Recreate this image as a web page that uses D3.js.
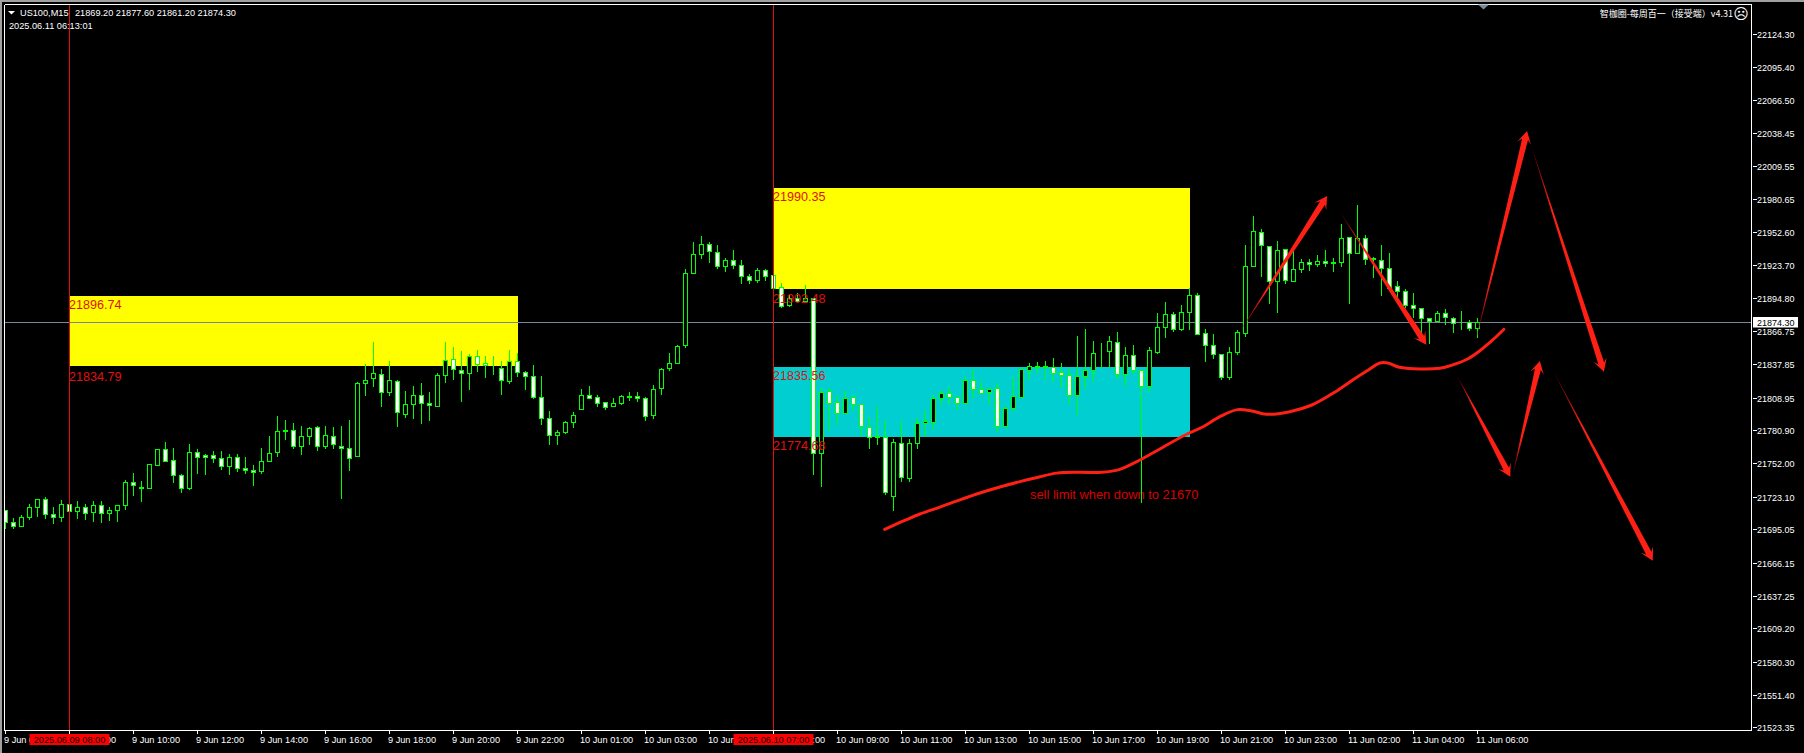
<!DOCTYPE html>
<html><head><meta charset="utf-8">
<style>html,body{margin:0;padding:0;background:#000;overflow:hidden}svg{display:block}text{font-family:"Liberation Sans",Arial,sans-serif}</style>
<script src="https://cdn.jsdelivr.net/npm/d3@7/dist/d3.min.js"></script>
</head><body>
<script>
const opens=[21712.0,21701.3,21697.6,21705.4,21714.1,21721.3,21708.3,21705.4,21716.9,21710.6,21714.3,21709.7,21716.1,21708.9,21711.5,21715.8,21736.0,21731.4,21730.5,21750.4,21764.6,21755.0,21742.1,21730.5,21762.0,21759.4,21759.4,21756.8,21749.6,21757.6,21748.1,21746.4,21745.2,21753.9,21761.7,21781.0,21781.0,21766.9,21775.5,21783.6,21766.9,21775.8,21767.2,21765.4,21758.2,21821.5,21825.8,21829.5,21813.7,21823.5,21795.2,21803.3,21811.4,21804.4,21801.5,21828.4,21842.5,21833.0,21830.1,21845.1,21839.1,21837.6,21834.7,21823.2,21840.8,21831.3,21827.8,21809.6,21791.4,21776.7,21779.0,21787.7,21798.9,21811.4,21809.6,21805.3,21801.5,21804.1,21810.2,21810.5,21808.8,21793.5,21817.1,21834.4,21838.8,21854.4,21917.0,21933.2,21942.1,21935.2,21922.8,21928.3,21923.9,21914.4,21910.4,21919.6,21915.3,21904.9,21889.0,21895.6,21892.5,21895.1,21761.1,21814.5,21805.3,21795.8,21809.6,21803.6,21783.6,21775.3,21775.0,21723.6,21769.8,21739.2,21769.8,21787.4,21787.7,21808.8,21812.9,21809.7,21804.5,21824.1,21816.3,21813.7,21817.2,21784.3,21800.2,21809.7,21833.1,21836.5,21835.9,21835.4,21831.0,21828.4,21811.4,21827.9,21833.1,21848.7,21849.2,21857.0,21829.3,21846.1,21832.8,21819.2,21848.4,21870.0,21881.6,21868.3,21883.0,21898.0,21865.1,21854.7,21846.3,21826.7,21848.4,21865.1,21922.8,21952.6,21940.4,21909.8,21937.9,21909.8,21920.2,21926.6,21924.6,21927.5,21926.3,21926.3,21948.2,21934.1,21947.4,21929.5,21928.3,21921.4,21905.5,21901.2,21889.4,21886.8,21877.8,21875.2,21882.4,21878.1,21873.8,21874.3,21869.2];
const highs=[21712.0,21705.1,21707.4,21717.2,21721.3,21723.0,21714.6,21720.7,21716.9,21719.0,21717.2,21719.0,21719.8,21713.8,21716.1,21738.0,21743.8,21737.1,21751.6,21764.6,21770.1,21764.9,21743.2,21769.2,21764.6,21760.5,21763.1,21762.3,21760.5,21760.5,21757.1,21751.0,21764.9,21776.1,21793.4,21790.0,21787.4,21784.8,21783.6,21784.8,21784.8,21783.9,21784.8,21790.0,21822.6,21838.5,21857.5,21833.9,21841.1,21824.3,21815.1,21819.4,21821.2,21813.4,21830.4,21856.7,21853.2,21848.9,21846.3,21849.8,21844.6,21845.4,21841.1,21850.6,21847.2,21832.4,21836.8,21828.1,21797.8,21781.3,21788.8,21796.1,21816.0,21818.6,21811.6,21805.3,21808.2,21811.4,21813.4,21813.4,21809.9,21820.3,21834.7,21848.0,21854.9,21920.5,21943.9,21948.5,21943.9,21941.5,21930.0,21937.2,21928.3,21915.6,21920.8,21920.5,21915.3,21908.6,21897.4,21899.7,21906.9,21895.1,21817.4,21817.4,21810.8,21814.5,21810.2,21803.6,21792.3,21802.1,21790.0,21772.7,21789.1,21773.5,21791.4,21797.2,21810.8,21814.6,21818.1,21809.7,21827.6,21833.9,21823.2,21817.5,21821.8,21801.6,21826.7,21833.6,21839.1,21840.0,21841.1,21842.9,21839.1,21834.8,21861.9,21868.6,21857.6,21856.4,21862.2,21865.4,21853.0,21854.1,21832.8,21853.0,21881.9,21891.4,21883.3,21888.8,21903.5,21899.8,21868.0,21864.2,21846.3,21853.0,21867.4,21940.7,21965.9,21954.6,21940.4,21944.2,21937.9,21937.0,21929.2,21928.6,21932.1,21936.4,21929.5,21958.9,21948.2,21976.2,21949.4,21930.9,21940.7,21933.8,21909.6,21903.2,21899.2,21886.8,21877.8,21884.2,21885.9,21879.2,21883.6,21876.6,21877.6];
const lows=[21696.2,21696.4,21697.6,21704.2,21706.0,21705.1,21700.8,21702.5,21710.6,21705.1,21704.2,21702.5,21701.6,21703.4,21702.5,21712.9,21725.0,21719.8,21730.5,21750.4,21753.9,21736.3,21727.6,21729.4,21744.1,21743.2,21753.6,21747.5,21743.2,21745.8,21744.1,21733.7,21744.1,21753.9,21758.8,21772.7,21764.9,21759.7,21769.2,21764.0,21764.9,21764.9,21722.4,21746.7,21758.2,21811.6,21819.4,21802.1,21811.6,21784.8,21792.6,21791.7,21787.4,21790.0,21801.5,21822.9,21825.5,21806.4,21816.8,21832.4,21827.2,21829.0,21812.5,21821.2,21828.1,21816.0,21808.2,21786.5,21769.2,21769.2,21778.2,21783.9,21798.9,21808.5,21801.3,21799.5,21801.5,21803.0,21807.3,21806.4,21790.0,21791.7,21812.5,21833.3,21838.8,21853.2,21917.0,21930.3,21926.8,21921.6,21919.0,21921.6,21907.8,21908.6,21909.5,21911.2,21904.3,21887.6,21888.1,21893.0,21892.5,21743.2,21732.2,21780.7,21786.5,21795.8,21798.6,21777.0,21764.9,21769.2,21725.3,21712.0,21736.6,21736.6,21765.4,21776.1,21782.0,21803.0,21803.0,21799.3,21804.5,21809.7,21813.1,21804.5,21779.9,21784.3,21798.1,21809.7,21824.7,21830.5,21824.7,21823.2,21818.3,21804.5,21794.7,21817.5,21823.2,21835.7,21835.7,21825.6,21820.1,21830.5,21718.5,21814.6,21847.5,21861.1,21866.6,21867.1,21868.6,21863.7,21840.6,21843.7,21825.3,21825.3,21846.6,21862.2,21922.8,21913.9,21890.5,21882.7,21908.1,21909.8,21917.4,21919.1,21922.6,21922.6,21918.2,21922.6,21890.5,21934.1,21925.1,21913.0,21897.4,21904.1,21890.5,21887.6,21879.2,21863.7,21855.9,21875.2,21872.3,21865.4,21868.0,21867.1,21861.2];
const closes=[21701.3,21697.6,21705.7,21714.3,21721.3,21708.0,21705.4,21716.9,21710.6,21714.3,21708.9,21716.1,21708.9,21711.5,21716.1,21736.0,21733.1,21730.5,21751.6,21764.6,21753.9,21741.8,21730.5,21762.0,21757.6,21757.4,21756.5,21749.6,21757.6,21747.8,21746.1,21744.4,21754.2,21761.1,21780.2,21779.9,21766.9,21775.8,21782.8,21766.9,21776.7,21768.6,21765.1,21756.5,21821.7,21824.3,21830.4,21813.7,21824.3,21796.3,21803.6,21811.4,21804.1,21802.4,21828.7,21841.7,21833.6,21830.1,21845.1,21837.9,21837.3,21837.0,21824.1,21840.5,21831.0,21827.5,21809.3,21791.1,21776.4,21779.3,21788.0,21794.0,21811.4,21808.5,21804.1,21800.7,21804.4,21810.5,21809.6,21808.5,21792.9,21816.6,21833.9,21839.1,21853.8,21917.0,21933.5,21942.1,21936.1,21922.8,21928.3,21923.9,21914.1,21910.9,21919.6,21914.1,21904.3,21888.1,21895.6,21893.0,21895.6,21761.1,21813.9,21804.4,21795.8,21808.7,21803.6,21784.5,21775.0,21774.7,21727.1,21770.1,21740.0,21769.8,21786.8,21788.5,21808.8,21812.9,21809.7,21804.5,21824.4,21816.6,21813.1,21816.6,21784.0,21800.2,21810.3,21833.6,21836.2,21835.9,21836.5,21830.5,21828.7,21811.4,21827.6,21832.8,21847.8,21848.1,21858.2,21829.3,21846.1,21833.1,21819.2,21850.4,21870.3,21881.6,21868.3,21883.3,21898.0,21864.2,21854.4,21846.6,21826.7,21848.6,21866.0,21923.1,21953.4,21941.0,21909.8,21937.0,21910.7,21920.5,21926.6,21924.9,21927.5,21925.7,21925.7,21947.4,21934.4,21947.4,21929.2,21928.9,21921.4,21904.1,21901.5,21889.1,21886.8,21878.1,21875.5,21882.4,21879.0,21873.8,21873.2,21869.4,21874.3];

const priceTicks=["22124.30","22095.40","22066.50","22038.45","22009.55","21980.65","21952.60","21923.70","21894.80","21866.75","21837.85","21808.95","21780.90","21752.00","21723.10","21695.05","21666.15","21637.25","21609.20","21580.30","21551.40","21523.35"];
const timeLabels=["9 Jun 06:00","9 Jun 08:00","9 Jun 10:00","9 Jun 12:00","9 Jun 14:00","9 Jun 16:00","9 Jun 18:00","9 Jun 20:00","9 Jun 22:00","10 Jun 01:00","10 Jun 03:00","10 Jun 05:00","10 Jun 07:00","10 Jun 09:00","10 Jun 11:00","10 Jun 13:00","10 Jun 15:00","10 Jun 17:00","10 Jun 19:00","10 Jun 21:00","10 Jun 23:00","11 Jun 02:00","11 Jun 04:00","11 Jun 06:00"];
const barsPerLabel=8;

const currentPrice=21874.30;
const markerBars=[8,96];
const markerTags=["2025.06.09 08:00","2025.06.10 07:00"];
const zoneStart=[8,96,96];
const zoneEnd=[64,148,148];
const zoneTop=[21896.74,21990.35,21835.56];
const zoneBottom=[21836.2,21903.2,21774.68];
const zoneColor=["#ffff00","#ffff00","#00ced1"];
const zoneLabelPrice=[21896.74,21834.79,21990.35,21902.48,21835.56,21774.68];
const zoneLabelOnBar=[8,8,96,96,96,96];

const curveBars=[109.9,112.4,114.3,116.8,119.3,121.8,124.3,126.8,129.3,131.4,134.3,137.0,139.3,141.4,143.4,145.9,147.7,149.7,151.8,154,155.8,157.6,160.4,163.3,166.2,168.4,170.2,171.8,172.8,174.1,176,179.3,180.9,182.7,184.3,185.9,187.3];
const curvePrices=[21695.2,21703.0,21708.6,21714.6,21720.9,21726.8,21732.0,21736.6,21740.9,21744.0,21744.7,21744.7,21747.3,21753.9,21761.4,21771.2,21777.9,21784.2,21792.9,21799,21797.8,21795,21797,21803,21814.3,21824.7,21832.7,21839.4,21839.4,21835.9,21834.4,21834.8,21837.7,21842.6,21850,21859.3,21868.6];

const arrowFromBar=[154.3,166.7,183.7,190.6,181.4,188.4,193.4];
const arrowFromPrice=[21866.5,21971.3,21856.7,22029.9,21829,21742.4,21833.3];
const arrowToBar=[165.2,177.6,190.2,199.8,188.1,191.8,205.9];
const arrowToPrice=[21984.0,21855.2,22040.3,21831.9,21740.9,21841.1,21668.2];

const W=1804,H=753,plotL=4.5,plotR=1751.5,plotT=4.5,plotB=730.5;
const x=d3.scaleLinear().domain([0,1]).range([5.5,13.5]);
const y=d3.scaleLinear().domain([22124.30,21523.35]).range([34,727.9]);
const py=v=>Math.floor(y(v))+0.5;
const RED="#ff2015",GREEN="#00ff00";

const svg=d3.select("body").append("svg").attr("width",W).attr("height",H);
svg.append("rect").attr("width",W).attr("height",H).attr("fill","#000");

svg.append("rect").attr("width",W).attr("height",2).attr("fill","#a0a0a0");
svg.append("rect").attr("width",2).attr("height",H).attr("fill","#a0a0a0");

const defs=svg.append("defs");
defs.append("clipPath").attr("id","plot").append("rect")
 .attr("x",plotL).attr("y",plotT).attr("width",plotR-plotL).attr("height",plotB-plotT);
const plot=svg.append("g").attr("clip-path","url(#plot)");

// zones
plot.append("g").attr("shape-rendering","crispEdges").selectAll("rect").data(zoneTop).join("rect")
 .attr("x",(d,i)=>x(zoneStart[i])).attr("width",(d,i)=>x(zoneEnd[i])-x(zoneStart[i]))
 .attr("y",d=>Math.floor(y(d))).attr("height",(d,i)=>Math.floor(y(zoneBottom[i]))-Math.floor(y(d))).attr("fill",(d,i)=>zoneColor[i]);

plot.append("text").attr("x",1030).attr("y",499).attr("fill","#d80000").attr("font-size","12.9px").text("sell limit when down to 21670");

// current price line
plot.append("line").attr("x1",plotL).attr("x2",plotR).attr("y1",py(currentPrice)).attr("y2",py(currentPrice)).attr("stroke","#778899").attr("shape-rendering","crispEdges");

// candles
const bars=plot.append("g").attr("shape-rendering","crispEdges");
const idx=d3.range(opens.length);
bars.selectAll("line").data(idx).join("line")
 .attr("x1",i=>x(i)).attr("x2",i=>x(i)).attr("y1",i=>py(highs[i])-0.5).attr("y2",i=>py(lows[i])+0.5)
 .attr("stroke",GREEN);
bars.selectAll("rect").data(idx).join("rect")
 .attr("x",i=>x(i)-2).attr("width",4)
 .attr("y",i=>py(Math.max(opens[i],closes[i])))
 .attr("height",i=>py(Math.min(opens[i],closes[i]))-py(Math.max(opens[i],closes[i])))
 .attr("fill",i=>closes[i]>=opens[i]?"#000":"#fff").attr("stroke",GREEN);

// zone labels sit above the candles
plot.append("g").selectAll("text").data(zoneLabelPrice).join("text")
 .attr("x",(d,i)=>x(zoneLabelOnBar[i])-0.5).attr("y",d=>y(d)+12.5)
 .attr("fill","#e01010").attr("font-size","12.6px").text(d=>d.toFixed(2));

// vertical markers
plot.append("g").selectAll("line").data(markerBars).join("line")
 .attr("x1",d=>x(d)).attr("x2",d=>x(d)).attr("y1",plotT).attr("y2",plotB)
 .attr("stroke","#e01010").attr("shape-rendering","crispEdges");

// hand-drawn curve
plot.append("path").attr("fill","none").attr("stroke",RED).attr("stroke-width",3).attr("stroke-linecap","round")
 .attr("d",d3.line().x(i=>x(curveBars[i])).y(i=>y(curvePrices[i])).curve(d3.curveCatmullRom)(d3.range(curveBars.length)));

// hand-drawn tapered arrows, fading toward the tail
function arrowPath(x0,y0,x1,y1){
  const L=Math.hypot(x1-x0,y1-y0),ux=(x1-x0)/L,uy=(y1-y0)/L,nx=-uy,ny=ux;
  const p=(b,s)=>[x1-ux*b+nx*s,y1-uy*b+ny*s];
  return d3.line()([[x0,y0],p(8.5,3),p(12.5,7),[x1,y1],p(12.5,-7),p(8.5,-3)])+"Z";
}
arrowFromBar.forEach((d,i)=>{
  const g=defs.append("linearGradient").attr("id","arrow"+i).attr("gradientUnits","userSpaceOnUse")
   .attr("x1",x(d)).attr("y1",y(arrowFromPrice[i])).attr("x2",x(arrowToBar[i])).attr("y2",y(arrowToPrice[i]));
  g.append("stop").attr("offset","0").attr("stop-color","#500");
  g.append("stop").attr("offset","0.3").attr("stop-color",RED);
});
plot.append("g").selectAll("path").data(arrowFromBar).join("path")
 .attr("fill",(d,i)=>`url(#arrow${i})`)
 .attr("d",(d,i)=>arrowPath(x(d),y(arrowFromPrice[i]),x(arrowToBar[i]),y(arrowToPrice[i])));

// frame
const frame=svg.append("g").attr("stroke","#fff").attr("shape-rendering","crispEdges");
frame.append("line").attr("x1",plotL).attr("x2",plotR).attr("y1",plotT).attr("y2",plotT);
frame.append("line").attr("x1",plotL).attr("x2",plotL).attr("y1",plotT).attr("y2",plotB);
frame.append("line").attr("x1",plotR).attr("x2",plotR).attr("y1",plotT).attr("y2",plotB);
frame.append("line").attr("x1",plotL).attr("x2",plotR).attr("y1",plotB).attr("y2",plotB);

// price axis
const tickG=svg.append("g").selectAll("g").data(priceTicks).join("g").attr("transform",d=>`translate(0,${py(+d)})`);
tickG.append("line").attr("x1",plotR+1).attr("x2",plotR+5).attr("stroke","#fff").attr("shape-rendering","crispEdges");
tickG.append("text").attr("x",1757).attr("y",3.5).attr("fill","#fff").attr("font-size","9px").text(d=>d);
// current price tag
svg.append("rect").attr("x",1753).attr("y",py(currentPrice)-5.5).attr("width",45).attr("height",10.5).attr("fill","#fff");
svg.append("text").attr("x",1757).attr("y",py(currentPrice)+3.5).attr("fill","#000").attr("font-size","9px").text(currentPrice.toFixed(2));

// time axis
const tG=svg.append("g").selectAll("g").data(timeLabels).join("g").attr("transform",(d,i)=>`translate(${x(i*barsPerLabel)},0)`);
tG.append("line").attr("y1",plotB).attr("y2",plotB+3.5).attr("stroke","#fff").attr("shape-rendering","crispEdges");
tG.append("text").attr("x",-1.5).attr("y",743).attr("fill","#fff").attr("font-size","9.2px").text(d=>d);
// marker tags
const mG=svg.append("g").selectAll("g").data(markerTags).join("g").attr("transform",(d,i)=>`translate(${x(markerBars[i])},0)`);
mG.append("rect").attr("x",-40).attr("y",734).attr("width",80).attr("height",11).attr("fill","#ff0000");
mG.append("text").attr("text-anchor","middle").attr("y",743).attr("fill","#000").attr("font-size","9.2px").text(d=>d);

// header
svg.append("path").attr("d","M8,11L15,11L11.5,14.5Z").attr("fill","#fff");
svg.append("text").attr("x",20).attr("y",16).attr("fill","#fff").attr("font-size","9.2px").text("US100,M15");
svg.append("text").attr("x",75).attr("y",16).attr("fill","#fff").attr("font-size","9.2px").text("21869.20 21877.60 21861.20 21874.30");
svg.append("text").attr("x",9).attr("y",29).attr("fill","#fff").attr("font-size","9.2px").text("2025.06.11 06:13:01");
svg.append("text").attr("x",1733).attr("y",17).attr("text-anchor","end").attr("fill","#fff").attr("font-size","9px")
 .style("font-family",'"Noto Sans CJK SC","Liberation Sans",sans-serif').text("智枷圈-每周百一（接受端）v4.31");
svg.append("text").attr("x",1741).attr("y",19).attr("text-anchor","middle").attr("fill","#fff").attr("font-size","15px")
 .style("font-family",'"DejaVu Sans"').text("☹");
svg.append("path").attr("d","M1478,4.5L1489,4.5L1483.5,9.5Z").attr("fill","#778899");
</script>
</body></html>
